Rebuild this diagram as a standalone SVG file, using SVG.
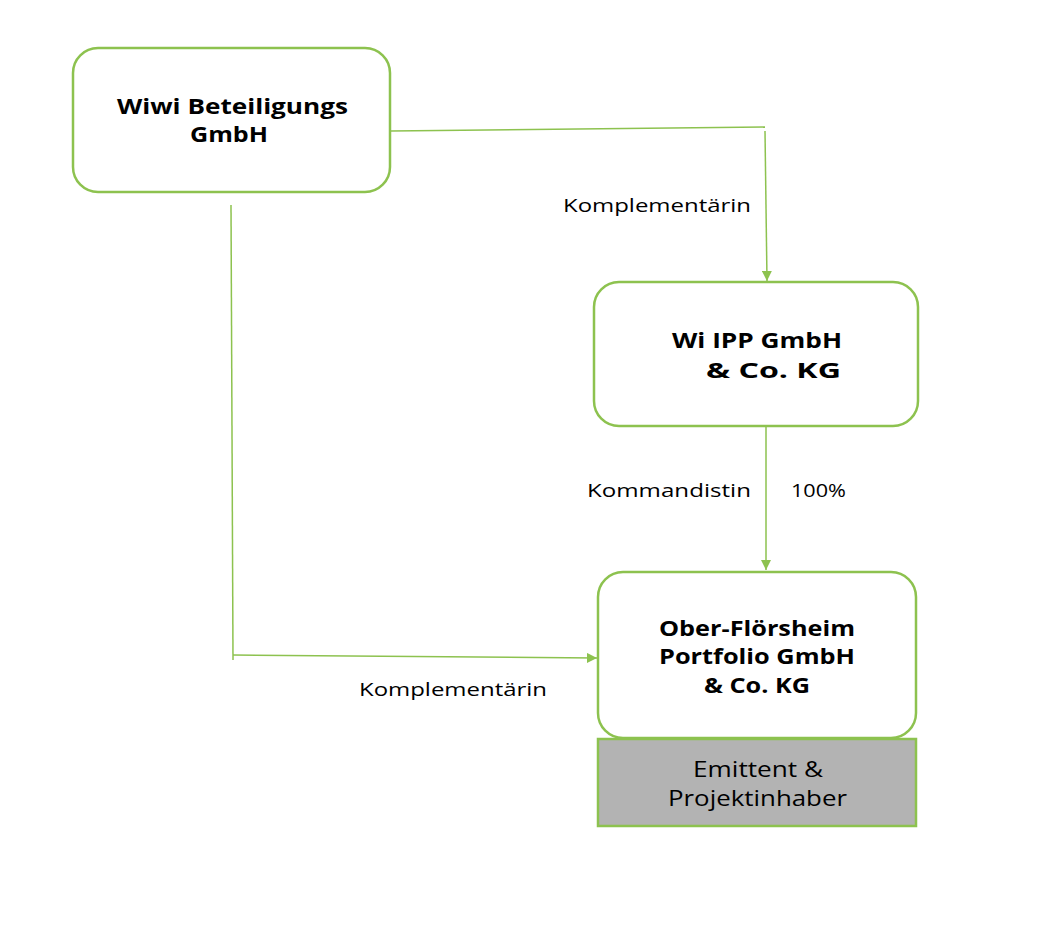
<svg xmlns="http://www.w3.org/2000/svg" width="1040" height="932" viewBox="0 0 1040 932">
<style>
.box{fill:#fff;stroke:#8DC24F;stroke-width:2.5}
.t{font-family:"Open Sans","Noto Sans",sans-serif;font-weight:bold;font-size:22px;fill:#000;text-anchor:middle}
.l{font-family:"Open Sans","Noto Sans",sans-serif;font-size:18px;fill:#000}
.c{fill:none;stroke:#8DC24F;stroke-width:1.5}
.g{font-family:"Open Sans","Noto Sans",sans-serif;font-size:22px;fill:#000;text-anchor:middle}
</style>
<defs>
<marker id="ah" viewBox="0 0 10 10" refX="10" refY="5" markerWidth="10" markerHeight="10" markerUnits="userSpaceOnUse" orient="auto">
<path d="M0,0 L10,5 L0,10 z" fill="#8DC24F"/>
</marker>
</defs>
<rect width="1040" height="932" fill="#fff"/>
<g id="connectors">
<path class="c" d="M391,131 L765,127"/>
<path class="c" d="M765,131 L767,281" marker-end="url(#ah)"/>
<path class="c" d="M766,414 L766,570" marker-end="url(#ah)"/>
<path class="c" d="M231,205 L233,660"/>
<path class="c" d="M233,655 L597,658" marker-end="url(#ah)"/>
<text class="l" x="563" y="212" textLength="188" lengthAdjust="spacingAndGlyphs">Komplementärin</text>
<text class="l" x="587" y="497" textLength="164" lengthAdjust="spacingAndGlyphs">Kommandistin</text>
<text class="l" x="791" y="497" textLength="55" lengthAdjust="spacingAndGlyphs">100%</text>
<text class="l" x="359" y="696" textLength="188" lengthAdjust="spacingAndGlyphs">Komplementärin</text>
</g>
<g id="wiwi">
<rect class="box" x="73" y="48" width="317" height="144" rx="25"/>
<text class="t" x="232.5" y="114" textLength="231" lengthAdjust="spacingAndGlyphs">Wiwi Beteiligungs</text>
<text class="t" x="229" y="142" textLength="78" lengthAdjust="spacingAndGlyphs">GmbH</text>
</g>
<g id="wiipp">
<rect class="box" x="594" y="282" width="324" height="144" rx="25"/>
<text class="t" x="757" y="348" textLength="170" lengthAdjust="spacingAndGlyphs">Wi IPP GmbH</text>
<text class="t" x="773.5" y="378" textLength="135" lengthAdjust="spacingAndGlyphs">&amp; Co. KG</text>
</g>
<g id="ober">
<rect class="box" x="598" y="572" width="318" height="166" rx="25"/>
<text class="t" x="757" y="636" textLength="196" lengthAdjust="spacingAndGlyphs">Ober-Flörsheim</text>
<text class="t" x="757" y="664" textLength="196" lengthAdjust="spacingAndGlyphs">Portfolio GmbH</text>
<text class="t" x="757" y="693" textLength="106" lengthAdjust="spacingAndGlyphs">&amp; Co. KG</text>
</g>
<g id="emittent">
<rect x="598" y="739" width="318" height="87" fill="#B3B3B3" stroke="#8DC24F" stroke-width="2.5"/>
<text class="g" x="758" y="777" textLength="130" lengthAdjust="spacingAndGlyphs">Emittent &amp;</text>
<text class="g" x="757.5" y="806" textLength="179" lengthAdjust="spacingAndGlyphs">Projektinhaber</text>
</g>
</svg>
